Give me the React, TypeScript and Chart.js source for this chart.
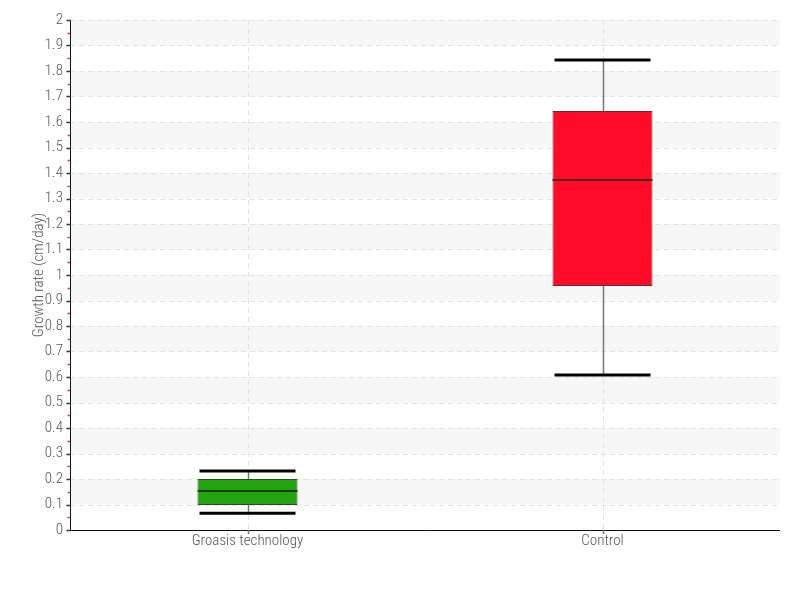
import React, { useEffect, useRef } from 'react';
import { Chart, registerables } from 'chart.js';

Chart.register(...registerables);

const categories = ['Groasis technology', 'Control'];
const whiskerLow = [0.066, 0.608];
const q1 = [0.098, 0.957];
const median = [0.153, 1.373];
const q3 = [0.2, 1.643];
const whiskerHigh = [0.231, 1.843];
const boxColors = ['#22a40f', '#ff0d28'];
const boxBorders = ['#2a4a25', '#6a2a32'];
const yMin = 0;
const yMax = 2;
const yStep = 0.1;
const yTitle = 'Growth rate (cm/day)';

const FONT = '"Roboto Condensed", "Liberation Sans Narrow", Roboto, sans-serif';

const boxPlugin = {
  id: 'boxPlugin',
  beforeDatasetsDraw(chart: any) {
    const { ctx, chartArea, scales } = chart;
    const y = scales.y;
    const x = scales.x;
    const { left, right, top, bottom } = chartArea;
    ctx.save();
    const n = Math.round((yMax - yMin) / yStep);
    for (let i = 0; i < n; i++) {
      if (i % 2 === 1) {
        const y0 = y.getPixelForValue(yMin + i * yStep);
        const y1 = y.getPixelForValue(yMin + (i + 1) * yStep);
        ctx.fillStyle = '#f7f7f7';
        ctx.fillRect(left, y1, right - left, y0 - y1);
      }
    }
    ctx.strokeStyle = '#e2e2e2';
    ctx.lineWidth = 1;
    ctx.setLineDash([5, 4]);
    for (let i = 1; i <= n; i++) {
      const py = Math.round(y.getPixelForValue(yMin + i * yStep)) + 0.5;
      ctx.beginPath();
      ctx.moveTo(left, py);
      ctx.lineTo(right, py);
      ctx.stroke();
    }
    categories.forEach((_, i) => {
      const px = Math.round(x.getPixelForValue(i)) + 0.5;
      ctx.beginPath();
      ctx.moveTo(px, top);
      ctx.lineTo(px, bottom);
      ctx.stroke();
    });
    ctx.setLineDash([]);
    categories.forEach((_, i) => {
      const px = Math.round(x.getPixelForValue(i)) + 0.5;
      ctx.strokeStyle = '#777777';
      ctx.lineWidth = 1.5;
      ctx.beginPath();
      ctx.moveTo(px, y.getPixelForValue(whiskerLow[i]));
      ctx.lineTo(px, y.getPixelForValue(whiskerHigh[i]));
      ctx.stroke();
    });
    ctx.restore();
  },
  afterDraw(chart: any) {
    const { ctx, chartArea, scales } = chart;
    const y = scales.y;
    const x = scales.x;
    const { left, right, top, bottom } = chartArea;
    const meta = chart.getDatasetMeta(0);
    ctx.save();
    categories.forEach((_, i) => {
      const bar = meta.data[i];
      const half = bar.width / 2;
      const cx = x.getPixelForValue(i);
      ctx.strokeStyle = '#1a1a1a';
      ctx.lineWidth = 1.5;
      ctx.beginPath();
      const my = y.getPixelForValue(median[i]);
      ctx.moveTo(cx - half, my);
      ctx.lineTo(cx + half, my);
      ctx.stroke();
      ctx.strokeStyle = '#000000';
      ctx.lineWidth = 3;
      [whiskerLow[i], whiskerHigh[i]].forEach((v) => {
        const wy = y.getPixelForValue(v);
        ctx.beginPath();
        ctx.moveTo(cx - half + 2, wy);
        ctx.lineTo(cx + half - 2, wy);
        ctx.stroke();
      });
    });
    ctx.strokeStyle = '#111111';
    ctx.lineWidth = 1;
    ctx.beginPath();
    ctx.moveTo(Math.round(left) + 0.5, top);
    ctx.lineTo(Math.round(left) + 0.5, bottom + 0.5);
    ctx.lineTo(right, Math.round(bottom) + 0.5);
    ctx.stroke();
    const n = Math.round((yMax - yMin) / yStep);
    for (let i = 0; i <= n; i++) {
      const py = Math.round(y.getPixelForValue(yMin + i * yStep)) + 0.5;
      ctx.strokeStyle = '#333333';
      ctx.lineWidth = 1.5;
      ctx.beginPath();
      ctx.moveTo(left - 3.5, py);
      ctx.lineTo(left + 1, py);
      ctx.stroke();
      if (i < n) {
        const pm = Math.round(y.getPixelForValue(yMin + (i + 0.5) * yStep)) + 0.5;
        ctx.strokeStyle = '#ff2a2a';
        ctx.beginPath();
        ctx.moveTo(left - 2.5, pm);
        ctx.lineTo(left, pm);
        ctx.stroke();
      }
    }
    categories.forEach((_, i) => {
      const px = Math.round(x.getPixelForValue(i)) + 0.5;
      ctx.strokeStyle = '#777777';
      ctx.lineWidth = 1.5;
      ctx.beginPath();
      ctx.moveTo(px, bottom);
      ctx.lineTo(px, bottom + 4);
      ctx.stroke();
    });
    ctx.restore();
  },
};

export default function App() {
  const ref = useRef<HTMLCanvasElement | null>(null);
  useEffect(() => {
    if (!ref.current) return;
    const chart = new Chart(ref.current, {
      type: 'bar',
      data: {
        labels: categories,
        datasets: [
          {
            data: categories.map((_, i) => [q1[i], q3[i]]) as any,
            backgroundColor: boxColors,
            borderColor: boxBorders,
            borderWidth: 1,
            borderSkipped: false,
            barPercentage: 100 / 355,
            categoryPercentage: 1,
          },
        ],
      },
      options: {
        animation: false,
        responsive: false,
        layout: { padding: { left: 0, top: 20, right: 20, bottom: 0 } },
        plugins: { legend: { display: false }, tooltip: { enabled: false } },
        scales: {
          x: {
            grid: { display: false },
            border: { display: false },
            ticks: { color: '#555555', font: { family: FONT, size: 15, weight: '300' }, padding: -6, maxRotation: 0 },
            afterFit: (s: any) => {
              s.height = 70;
            },
          },
          y: {
            min: yMin,
            max: yMax,
            grid: { display: false },
            border: { display: false },
            ticks: {
              stepSize: yStep,
              color: '#555555',
              padding: -1,
              font: { family: FONT, size: 15, weight: '300' },
              callback: (v: any) => String(Number(Number(v).toFixed(1))),
            },
            title: {
              display: true,
              text: yTitle,
              color: '#555555',
              font: { family: FONT, size: 15, weight: '300' },
              padding: { top: 30, bottom: 0 },
            },
            afterFit: (s: any) => {
              s.width = 70;
            },
          },
        },
      },
      plugins: [boxPlugin],
    });
    return () => chart.destroy();
  }, []);
  return (
    <div style={{ position: 'fixed', left: 0, top: 0, width: 800, height: 600, background: '#fff' }}>
      <canvas ref={ref} width={800} height={600} style={{ width: 800, height: 600 }} />
    </div>
  );
}
